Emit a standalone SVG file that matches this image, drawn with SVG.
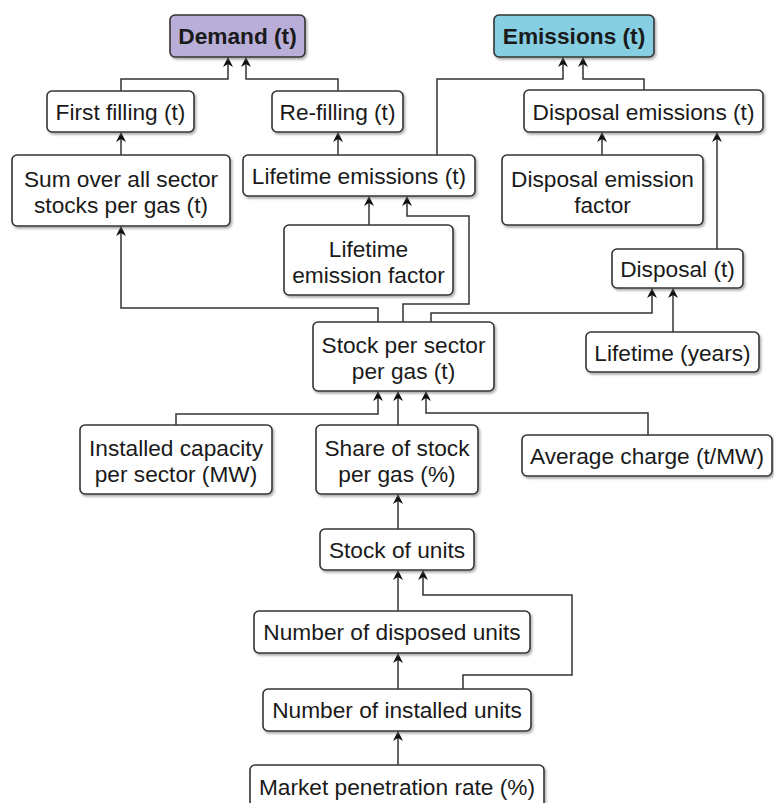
<svg xmlns="http://www.w3.org/2000/svg" width="774" height="803" viewBox="0 0 774 803">
<style>
.box{fill:#ffffff;stroke:#333333;stroke-width:1.6;filter:url(#sh)}
.t{font-family:"Liberation Sans",Arial,sans-serif;font-size:22.7px;fill:#1a1a1a;text-anchor:middle}
.b{font-weight:bold}
.c{fill:none;stroke:#333333;stroke-width:1.5}
</style>
<defs>
<filter id="sh" x="-10%" y="-10%" width="120%" height="130%">
<feDropShadow dx="1.5" dy="2" stdDeviation="1" flood-color="#777777" flood-opacity="0.6"/>
</filter>
<marker id="ar" viewBox="0 0 10 10" refX="10" refY="5" markerWidth="10" markerHeight="10" markerUnits="userSpaceOnUse" orient="auto">
<path d="M0,0 L10,5 L0,10 L3,5 z" fill="#111111"/>
</marker>
</defs>
<rect width="774" height="803" fill="#ffffff"/>

<g id="connectors">
<path class="c" d="M121,91 V79 H228 V57" marker-end="url(#ar)"/>
<path class="c" d="M338,91 V79 H246 V57" marker-end="url(#ar)"/>
<path class="c" d="M121,155 V132" marker-end="url(#ar)"/>
<path class="c" d="M338,155 V132" marker-end="url(#ar)"/>
<path class="c" d="M378,322 V308 H121 V226" marker-end="url(#ar)"/>
<path class="c" d="M369,225 V196" marker-end="url(#ar)"/>
<path class="c" d="M403,322 V304 H469 V216 H407 V196" marker-end="url(#ar)"/>
<path class="c" d="M437,155 V79 H563 V57" marker-end="url(#ar)"/>
<path class="c" d="M644,90 V79 H583 V57" marker-end="url(#ar)"/>
<path class="c" d="M602,155 V132" marker-end="url(#ar)"/>
<path class="c" d="M717,249 V132" marker-end="url(#ar)"/>
<path class="c" d="M431,322 V313 H652 V288" marker-end="url(#ar)"/>
<path class="c" d="M673,332 V288" marker-end="url(#ar)"/>
<path class="c" d="M176,425 V414 H378 V391" marker-end="url(#ar)"/>
<path class="c" d="M398,425 V391" marker-end="url(#ar)"/>
<path class="c" d="M648,435 V413 H426 V391" marker-end="url(#ar)"/>
<path class="c" d="M398,529 V494" marker-end="url(#ar)"/>
<path class="c" d="M398,611 V570" marker-end="url(#ar)"/>
<path class="c" d="M398,689 V653" marker-end="url(#ar)"/>
<path class="c" d="M463,689 V675 H572 V595 H423 V570" marker-end="url(#ar)"/>
<path class="c" d="M398,765 V731" marker-end="url(#ar)"/>
</g>

<g id="demand">
<rect class="box" x="170" y="15" width="135" height="42" rx="5" style="fill:#b9aed8"/>
<text class="t b" x="237.5" y="44">Demand (t)</text>
</g>
<g id="emissions">
<rect class="box" x="494" y="15" width="160" height="42" rx="5" style="fill:#86cfe2"/>
<text class="t b" x="574" y="44">Emissions (t)</text>
</g>
<g id="first-filling">
<rect class="box" x="47" y="91" width="147" height="41" rx="5"/>
<text class="t" x="120.5" y="119.5">First filling (t)</text>
</g>
<g id="re-filling">
<rect class="box" x="272" y="91" width="131" height="41" rx="5"/>
<text class="t" x="337.5" y="119.5">Re-filling (t)</text>
</g>
<g id="disposal-emissions">
<rect class="box" x="524" y="90" width="239" height="42" rx="5"/>
<text class="t" x="643.5" y="119.5">Disposal emissions (t)</text>
</g>
<g id="sum-over">
<rect class="box" x="12" y="155" width="218" height="71" rx="5"/>
<text class="t" x="121" y="186.5">Sum over all sector</text>
<text class="t" x="121" y="213">stocks per gas (t)</text>
</g>
<g id="lifetime-emissions">
<rect class="box" x="243" y="155" width="232" height="41" rx="5"/>
<text class="t" x="359" y="183.5">Lifetime emissions (t)</text>
</g>
<g id="disposal-emission-factor">
<rect class="box" x="502" y="155" width="201" height="70" rx="5"/>
<text class="t" x="602.5" y="186.5">Disposal emission</text>
<text class="t" x="602.5" y="213">factor</text>
</g>
<g id="lifetime-emission-factor">
<rect class="box" x="284" y="225" width="169" height="70" rx="5"/>
<text class="t" x="368.5" y="256.5">Lifetime</text>
<text class="t" x="368.5" y="283">emission factor</text>
</g>
<g id="disposal">
<rect class="box" x="612" y="249" width="131" height="39" rx="5"/>
<text class="t" x="677.5" y="276.5">Disposal (t)</text>
</g>
<g id="stock-per-sector">
<rect class="box" x="313" y="322" width="181" height="69" rx="5"/>
<text class="t" x="403.5" y="352.5">Stock per sector</text>
<text class="t" x="403.5" y="379">per gas (t)</text>
</g>
<g id="lifetime-years">
<rect class="box" x="586" y="332" width="173" height="40" rx="5"/>
<text class="t" x="672.5" y="360.5">Lifetime (years)</text>
</g>
<g id="installed-capacity">
<rect class="box" x="80" y="425" width="192" height="69" rx="5"/>
<text class="t" x="176" y="455.5">Installed capacity</text>
<text class="t" x="176" y="482">per sector (MW)</text>
</g>
<g id="share-of-stock">
<rect class="box" x="316" y="425" width="162" height="69" rx="5"/>
<text class="t" x="397" y="455.5">Share of stock</text>
<text class="t" x="397" y="482">per gas (%)</text>
</g>
<g id="average-charge">
<rect class="box" x="522" y="435" width="250" height="41" rx="5"/>
<text class="t" x="647" y="463.5">Average charge (t/MW)</text>
</g>
<g id="stock-of-units">
<rect class="box" x="320" y="529" width="154" height="41" rx="5"/>
<text class="t" x="397" y="557.5">Stock of units</text>
</g>
<g id="disposed-units">
<rect class="box" x="254" y="611" width="276" height="42" rx="5"/>
<text class="t" x="392" y="640">Number of disposed units</text>
</g>
<g id="installed-units">
<rect class="box" x="263" y="689" width="268" height="42" rx="5"/>
<text class="t" x="397" y="718">Number of installed units</text>
</g>
<g id="market-penetration">
<rect class="box" x="250" y="765" width="294" height="48" rx="5"/>
<text class="t" x="397" y="795">Market penetration rate (%)</text>
</g>
</svg>
